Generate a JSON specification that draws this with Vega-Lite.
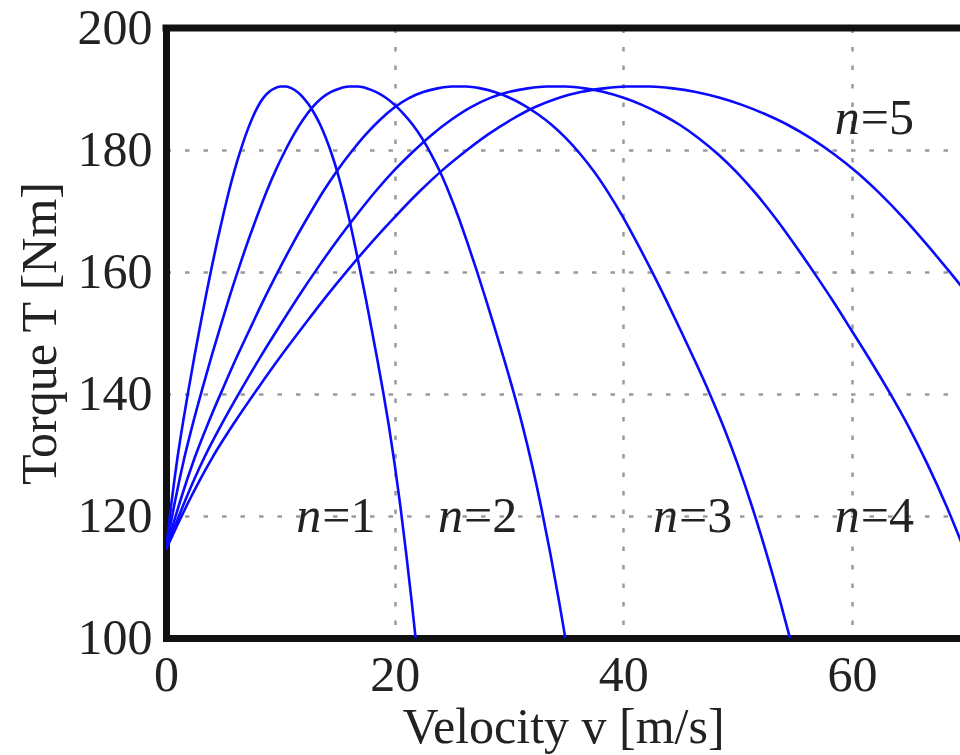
{
  "$schema": "https://vega.github.io/schema/vega-lite/v6.json",
  "width": 794,
  "height": 610,
  "autosize": {"type": "none"},
  "padding": {"left": 166, "top": 28, "right": 0, "bottom": 117},
  "background": "white",
  "config": {"view": {"stroke": null}, "font": "Liberation Serif"},
  "datasets": {
    "curves": [
      {"n":1,"v":0,"T":114.5},{"n":1,"v":0.5,"T":122.5},{"n":1,"v":1,"T":129.5},{"n":1,"v":1.5,"T":135.5},{"n":1,"v":2,"T":141},{"n":1,"v":2.5,"T":146.3},{"n":1,"v":3,"T":151.3},{"n":1,"v":3.5,"T":156.2},{"n":1,"v":4,"T":160.8},{"n":1,"v":4.5,"T":165.2},{"n":1,"v":5,"T":169.3},{"n":1,"v":5.5,"T":173.2},{"n":1,"v":6,"T":176.7},{"n":1,"v":6.5,"T":179.8},{"n":1,"v":7,"T":182.6},{"n":1,"v":7.5,"T":185},{"n":1,"v":8,"T":187},{"n":1,"v":8.5,"T":188.5},{"n":1,"v":9,"T":189.5},{"n":1,"v":9.5,"T":190.1},{"n":1,"v":10,"T":190.4},{"n":1,"v":10.5,"T":190.4},{"n":1,"v":11,"T":190.1},{"n":1,"v":11.5,"T":189.5},{"n":1,"v":12,"T":188.6},{"n":1,"v":12.5,"T":187.4},{"n":1,"v":13,"T":185.9},{"n":1,"v":13.5,"T":184.1},{"n":1,"v":14,"T":181.9},{"n":1,"v":14.5,"T":179.3},{"n":1,"v":15,"T":176.3},{"n":1,"v":15.5,"T":172.8},{"n":1,"v":16,"T":168.9},{"n":1,"v":16.5,"T":164.6},{"n":1,"v":17,"T":160.1},{"n":1,"v":17.5,"T":155.4},{"n":1,"v":18,"T":150.5},{"n":1,"v":18.5,"T":145.5},{"n":1,"v":19,"T":140.3},{"n":1,"v":19.5,"T":134.7},{"n":1,"v":20,"T":128.5},{"n":1,"v":20.5,"T":121.6},{"n":1,"v":21,"T":114},{"n":1,"v":21.5,"T":105.8},{"n":1,"v":22,"T":97},
      {"n":2,"v":0,"T":114.5},{"n":2,"v":0.8,"T":122.5},{"n":2,"v":1.6,"T":129.5},{"n":2,"v":2.4,"T":135.5},{"n":2,"v":3.2,"T":141},{"n":2,"v":4,"T":146.3},{"n":2,"v":4.8,"T":151.3},{"n":2,"v":5.6,"T":156.2},{"n":2,"v":6.4,"T":160.8},{"n":2,"v":7.2,"T":165.2},{"n":2,"v":8,"T":169.3},{"n":2,"v":8.8,"T":173.2},{"n":2,"v":9.6,"T":176.7},{"n":2,"v":10.4,"T":179.8},{"n":2,"v":11.2,"T":182.6},{"n":2,"v":12,"T":185},{"n":2,"v":12.8,"T":187},{"n":2,"v":13.6,"T":188.5},{"n":2,"v":14.4,"T":189.5},{"n":2,"v":15.2,"T":190.1},{"n":2,"v":16,"T":190.4},{"n":2,"v":16.8,"T":190.4},{"n":2,"v":17.6,"T":190.1},{"n":2,"v":18.4,"T":189.5},{"n":2,"v":19.2,"T":188.6},{"n":2,"v":20,"T":187.4},{"n":2,"v":20.8,"T":185.9},{"n":2,"v":21.6,"T":184.1},{"n":2,"v":22.4,"T":181.9},{"n":2,"v":23.2,"T":179.3},{"n":2,"v":24,"T":176.3},{"n":2,"v":24.8,"T":172.8},{"n":2,"v":25.6,"T":168.9},{"n":2,"v":26.4,"T":164.6},{"n":2,"v":27.2,"T":160.1},{"n":2,"v":28,"T":155.4},{"n":2,"v":28.8,"T":150.5},{"n":2,"v":29.6,"T":145.5},{"n":2,"v":30.4,"T":140.3},{"n":2,"v":31.2,"T":134.7},{"n":2,"v":32,"T":128.5},{"n":2,"v":32.8,"T":121.6},{"n":2,"v":33.6,"T":114},{"n":2,"v":34.4,"T":105.8},{"n":2,"v":35.2,"T":97},
      {"n":3,"v":0,"T":114.5},{"n":3,"v":1.25,"T":122.5},{"n":3,"v":2.5,"T":129.5},{"n":3,"v":3.75,"T":135.5},{"n":3,"v":5,"T":141},{"n":3,"v":6.25,"T":146.3},{"n":3,"v":7.5,"T":151.3},{"n":3,"v":8.75,"T":156.2},{"n":3,"v":10,"T":160.8},{"n":3,"v":11.25,"T":165.2},{"n":3,"v":12.5,"T":169.3},{"n":3,"v":13.75,"T":173.2},{"n":3,"v":15,"T":176.7},{"n":3,"v":16.25,"T":179.8},{"n":3,"v":17.5,"T":182.6},{"n":3,"v":18.75,"T":185},{"n":3,"v":20,"T":187},{"n":3,"v":21.25,"T":188.5},{"n":3,"v":22.5,"T":189.5},{"n":3,"v":23.75,"T":190.1},{"n":3,"v":25,"T":190.4},{"n":3,"v":26.25,"T":190.4},{"n":3,"v":27.5,"T":190.1},{"n":3,"v":28.75,"T":189.5},{"n":3,"v":30,"T":188.6},{"n":3,"v":31.25,"T":187.4},{"n":3,"v":32.5,"T":185.9},{"n":3,"v":33.75,"T":184.1},{"n":3,"v":35,"T":181.9},{"n":3,"v":36.25,"T":179.3},{"n":3,"v":37.5,"T":176.3},{"n":3,"v":38.75,"T":172.8},{"n":3,"v":40,"T":168.9},{"n":3,"v":41.25,"T":164.6},{"n":3,"v":42.5,"T":160.1},{"n":3,"v":43.75,"T":155.4},{"n":3,"v":45,"T":150.5},{"n":3,"v":46.25,"T":145.5},{"n":3,"v":47.5,"T":140.3},{"n":3,"v":48.75,"T":134.7},{"n":3,"v":50,"T":128.5},{"n":3,"v":51.25,"T":121.6},{"n":3,"v":52.5,"T":114},{"n":3,"v":53.75,"T":105.8},{"n":3,"v":55,"T":97},
      {"n":4,"v":0,"T":114.5},{"n":4,"v":1.67,"T":122.5},{"n":4,"v":3.33,"T":129.5},{"n":4,"v":5,"T":135.5},{"n":4,"v":6.66,"T":141},{"n":4,"v":8.33,"T":146.3},{"n":4,"v":9.99,"T":151.3},{"n":4,"v":11.66,"T":156.2},{"n":4,"v":13.32,"T":160.8},{"n":4,"v":14.99,"T":165.2},{"n":4,"v":16.65,"T":169.3},{"n":4,"v":18.32,"T":173.2},{"n":4,"v":19.98,"T":176.7},{"n":4,"v":21.65,"T":179.8},{"n":4,"v":23.31,"T":182.6},{"n":4,"v":24.98,"T":185},{"n":4,"v":26.64,"T":187},{"n":4,"v":28.31,"T":188.5},{"n":4,"v":29.97,"T":189.5},{"n":4,"v":31.64,"T":190.1},{"n":4,"v":33.3,"T":190.4},{"n":4,"v":34.97,"T":190.4},{"n":4,"v":36.63,"T":190.1},{"n":4,"v":38.3,"T":189.5},{"n":4,"v":39.96,"T":188.6},{"n":4,"v":41.63,"T":187.4},{"n":4,"v":43.29,"T":185.9},{"n":4,"v":44.96,"T":184.1},{"n":4,"v":46.62,"T":181.9},{"n":4,"v":48.29,"T":179.3},{"n":4,"v":49.95,"T":176.3},{"n":4,"v":51.62,"T":172.8},{"n":4,"v":53.28,"T":168.9},{"n":4,"v":54.95,"T":164.6},{"n":4,"v":56.61,"T":160.1},{"n":4,"v":58.28,"T":155.4},{"n":4,"v":59.94,"T":150.5},{"n":4,"v":61.61,"T":145.5},{"n":4,"v":63.27,"T":140.3},{"n":4,"v":64.94,"T":134.7},{"n":4,"v":66.6,"T":128.5},{"n":4,"v":68.27,"T":121.6},{"n":4,"v":69.93,"T":114},
      {"n":5,"v":0,"T":114.5},{"n":5,"v":2.02,"T":122.5},{"n":5,"v":4.03,"T":129.5},{"n":5,"v":6.05,"T":135.5},{"n":5,"v":8.06,"T":141},{"n":5,"v":10.08,"T":146.3},{"n":5,"v":12.09,"T":151.3},{"n":5,"v":14.11,"T":156.2},{"n":5,"v":16.12,"T":160.8},{"n":5,"v":18.14,"T":165.2},{"n":5,"v":20.15,"T":169.3},{"n":5,"v":22.17,"T":173.2},{"n":5,"v":24.18,"T":176.7},{"n":5,"v":26.2,"T":179.8},{"n":5,"v":28.21,"T":182.6},{"n":5,"v":30.23,"T":185},{"n":5,"v":32.24,"T":187},{"n":5,"v":34.26,"T":188.5},{"n":5,"v":36.27,"T":189.5},{"n":5,"v":38.29,"T":190.1},{"n":5,"v":40.3,"T":190.4},{"n":5,"v":42.32,"T":190.4},{"n":5,"v":44.33,"T":190.1},{"n":5,"v":46.35,"T":189.5},{"n":5,"v":48.36,"T":188.6},{"n":5,"v":50.38,"T":187.4},{"n":5,"v":52.39,"T":185.9},{"n":5,"v":54.41,"T":184.1},{"n":5,"v":56.42,"T":181.9},{"n":5,"v":58.44,"T":179.3},{"n":5,"v":60.45,"T":176.3},{"n":5,"v":62.47,"T":172.8},{"n":5,"v":64.48,"T":168.9},{"n":5,"v":66.5,"T":164.6},{"n":5,"v":68.51,"T":160.1},{"n":5,"v":70.53,"T":155.4}
    ],
    "labels": [
      {"lab":"=1","v":13.5,"T":117.4},
      {"lab":"=2","v":25.9,"T":117.4},
      {"lab":"=3","v":44.7,"T":117.4},
      {"lab":"=4","v":60.6,"T":117.4},
      {"lab":"=5","v":60.6,"T":182.7}
    ],
    "top": [{"T":200}]
  },
  "layer": [
    {
      "data": {"name": "curves"},
      "mark": {"type": "line", "color": "#0a0aff", "strokeWidth": 2.6, "clip": true, "interpolate": "monotone"},
      "encoding": {
        "x": {
          "field": "v", "type": "quantitative",
          "scale": {"domain": [0, 69.45], "nice": false, "zero": false},
          "axis": {
            "values": [0, 20, 40, 60],
            "title": "Velocity v [m/s]",
            "grid": true, "gridDash": [4.5, 14], "gridColor": "#9a9a9a", "gridWidth": 2.5,
            "domainColor": "#111", "domainWidth": 7, "domainCap": "square",
            "ticks": false, "tickSize": 0,
            "labelFont": "Liberation Serif", "labelFontSize": 50, "labelColor": "#222",
            "labelPadding": 12, "labelFlush": false, "labelOverlap": false,
            "titleFont": "Liberation Serif", "titleFontSize": 50, "titleFontWeight": "normal",
            "titleColor": "#222", "titlePadding": 2
          }
        },
        "y": {
          "field": "T", "type": "quantitative",
          "scale": {"domain": [100, 200], "nice": false, "zero": false},
          "axis": {
            "values": [100, 120, 140, 160, 180, 200],
            "title": "Torque T [Nm]",
            "grid": true, "gridDash": [4.5, 14], "gridColor": "#9a9a9a", "gridWidth": 2.5,
            "domainColor": "#111", "domainWidth": 7, "domainCap": "square",
            "ticks": false, "tickSize": 0,
            "labelFont": "Liberation Serif", "labelFontSize": 50, "labelColor": "#222",
            "labelPadding": 14, "labelFlush": false, "labelOverlap": false,
            "titleFont": "Liberation Serif", "titleFontSize": 50, "titleFontWeight": "normal",
            "titleColor": "#222", "titlePadding": 12
          }
        },
        "detail": {"field": "n", "type": "nominal"}
      }
    },
    {
      "data": {"name": "top"},
      "mark": {"type": "rule", "color": "#111", "strokeWidth": 7, "strokeCap": "square"},
      "encoding": {"y": {"field": "T", "type": "quantitative"}}
    },
    {
      "data": {"name": "labels"},
      "mark": {"type": "text", "text": "n", "font": "Liberation Serif", "fontStyle": "italic", "fontSize": 50, "color": "#222", "align": "right", "baseline": "alphabetic", "dx": 1},
      "encoding": {
        "x": {"field": "v", "type": "quantitative"},
        "y": {"field": "T", "type": "quantitative"}
      }
    },
    {
      "data": {"name": "labels"},
      "mark": {"type": "text", "font": "Liberation Serif", "fontSize": 50, "color": "#222", "align": "left", "baseline": "alphabetic", "dx": 2},
      "encoding": {
        "x": {"field": "v", "type": "quantitative"},
        "y": {"field": "T", "type": "quantitative"},
        "text": {"field": "lab", "type": "nominal"}
      }
    }
  ]
}
